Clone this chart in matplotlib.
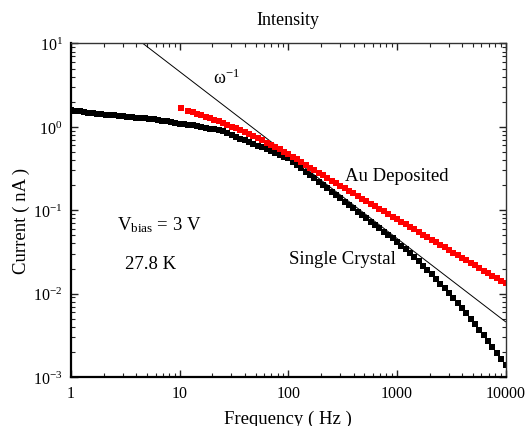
import numpy as np
import matplotlib
matplotlib.use("Agg")
import matplotlib.pyplot as plt
from matplotlib.ticker import LogLocator, FixedLocator, FixedFormatter, NullFormatter

plt.rcParams['font.family'] = ['Liberation Serif', 'DejaVu Serif']
plt.rcParams['mathtext.fontset'] = 'custom'
plt.rcParams['mathtext.rm'] = 'Liberation Serif'
plt.rcParams['mathtext.it'] = 'Liberation Serif:italic'

# frequency sweep (Hz)
freq = [1.00, 1.096, 1.202, 1.318, 1.445, 1.585, 1.738, 1.905, 2.089, 2.291,
        2.512, 2.754, 3.020, 3.311, 3.631, 3.981, 4.365, 4.786, 5.248, 5.754,
        6.310, 6.918, 7.586, 8.318, 9.120,
        10.00, 10.96, 12.02, 13.18, 14.45, 15.85, 17.38, 19.05, 20.89, 22.91,
        25.12, 27.54, 30.20, 33.11, 36.31, 39.81, 43.65, 47.86, 52.48, 57.54,
        63.10, 69.18, 75.86, 83.18, 91.20,
        100.0, 109.6, 120.2, 131.8, 144.5, 158.5, 173.8, 190.5, 208.9, 229.1,
        251.2, 275.4, 302.0, 331.1, 363.1, 398.1, 436.5, 478.6, 524.8, 575.4,
        631.0, 691.8, 758.6, 831.8, 912.0,
        1000, 1096, 1202, 1318, 1445, 1585, 1738, 1905, 2089, 2291,
        2512, 2754, 3020, 3311, 3631, 3981, 4365, 4786, 5248, 5754,
        6310, 6918, 7586, 8318, 9120, 10000]

# single crystal current (nA)
single_crystal = [1.60, 1.57, 1.54, 1.51, 1.48, 1.46, 1.44, 1.42, 1.40, 1.385,
                  1.37, 1.355, 1.34, 1.325, 1.31, 1.295, 1.28, 1.26, 1.245, 1.23,
                  1.21, 1.19, 1.165, 1.14, 1.115,
                  1.09, 1.075, 1.06, 1.04, 1.02, 0.995, 0.97, 0.935, 0.945, 0.915,
                  0.88, 0.84, 0.80, 0.76, 0.725, 0.69, 0.656, 0.625, 0.595, 0.566,
                  0.538, 0.511, 0.485, 0.462, 0.44,
                  0.418, 0.3815, 0.3479, 0.3173, 0.2894, 0.2638, 0.2406, 0.2195, 0.2002, 0.1825,
                  0.1665, 0.1518, 0.1385, 0.1263, 0.1152, 0.1050, 0.0958, 0.0874, 0.0797, 0.0727,
                  0.0663, 0.0605, 0.0551, 0.0503, 0.0459,
                  0.0418, 0.0377, 0.0339, 0.03046, 0.02724, 0.02431, 0.02164, 0.01920, 0.01700, 0.01500,
                  0.01320, 0.01159, 0.01014, 0.00885, 0.00770, 0.00669, 0.00579, 0.00499, 0.00430, 0.00369,
                  0.00316, 0.00270, 0.00230, 0.00195, 0.00165, 0.00139]

# Au deposited sample
freq_au = [10.4, 12.0] + freq[28:]
au_deposited = [1.68, 1.57,
                1.505, 1.444, 1.383, 1.324, 1.264, 1.207, 1.16,
                1.11, 1.06, 1.01, 0.962, 0.914, 0.866, 0.819, 0.774, 0.731, 0.689,
                0.649, 0.609, 0.572, 0.536, 0.503,
                0.470, 0.438, 0.407, 0.378, 0.350, 0.3245, 0.3011, 0.2805, 0.2613, 0.2433,
                0.2267, 0.2112, 0.1967, 0.1833, 0.1707, 0.1590, 0.1482, 0.1380, 0.1286, 0.1198,
                0.1116, 0.1039, 0.0968, 0.0902, 0.0840,
                0.0782, 0.0729, 0.0679, 0.0632, 0.0589, 0.0549, 0.0511, 0.0476, 0.0444, 0.0413,
                0.0385, 0.0359, 0.0334, 0.0311, 0.0290, 0.0270, 0.0252, 0.0234, 0.0218, 0.0203,
                0.0189, 0.0176, 0.0164, 0.0153, 0.0143, 0.0133]

# omega^-1 guide line
omega_f = [1, 10000]
omega_i = [46, 0.0046]

xticks = [1, 10, 100, 1000, 10000]
xticklabels = ['1', '10', '100', '1000', '10000']

fig = plt.figure(figsize=(5.29, 4.27), dpi=100)
ax = fig.add_axes([0.1342, 0.1148, 0.8214, 0.781])

ax.plot(omega_f, omega_i, color='black', lw=0.7)
ax.plot(freq, single_crystal, ls='none', marker='s', ms=4.0, mew=0, color='black')
ax.plot(freq_au, au_deposited, ls='none', marker='s', ms=4.3, mew=0, color='#ff0000')

ax.set_xscale('log')
ax.set_yscale('log')
ax.set_xlim(1, 10000)
ax.set_ylim(1e-3, 1e1)

ax.xaxis.set_major_locator(FixedLocator(xticks))
ax.xaxis.set_major_formatter(FixedFormatter(xticklabels))
ax.xaxis.set_minor_locator(LogLocator(base=10, subs=np.arange(2, 10)))
ax.xaxis.set_minor_formatter(NullFormatter())
ax.yaxis.set_minor_locator(LogLocator(base=10, subs=np.arange(2, 10)))
ax.yaxis.set_minor_formatter(NullFormatter())

ax.tick_params(which='both', direction='in', top=True, right=True, labelsize=11.5, color='#222222')
ax.tick_params(which='major', length=5, width=1.0)
ax.tick_params(which='minor', length=3, width=0.8)
ax.tick_params(axis='x', pad=6)
ax.tick_params(axis='y', pad=6)

for side in ['left', 'bottom']:
    ax.spines[side].set_linewidth(1.6)
for side in ['top', 'right']:
    ax.spines[side].set_linewidth(1.0)
    ax.spines[side].set_color('#333333')

ax.set_xlabel('Frequency ( Hz )', fontsize=13.5, labelpad=6)
ax.set_ylabel('Current ( nA )', fontsize=13.5)
ax.yaxis.set_label_coords(-0.095, 0.47)
ax.set_title('Intensity', fontsize=13, pad=14)

ax.text(20.3, 3.35, 'ω$^{-1}$', fontsize=13, ha='left', va='baseline')
ax.text(334, 0.264, 'Au Deposited', fontsize=13.5, ha='left', va='center')
ax.text(102, 0.0265, 'Single Crystal', fontsize=13.5, ha='left', va='center')
ax.text(2.67, 0.0684, r'V$_{\mathrm{bias}}$ = 3 V', fontsize=13.5, ha='left', va='center')
ax.text(3.14, 0.0227, '27.8 K', fontsize=13.5, ha='left', va='center')

fig.savefig('out.png', dpi=100)
